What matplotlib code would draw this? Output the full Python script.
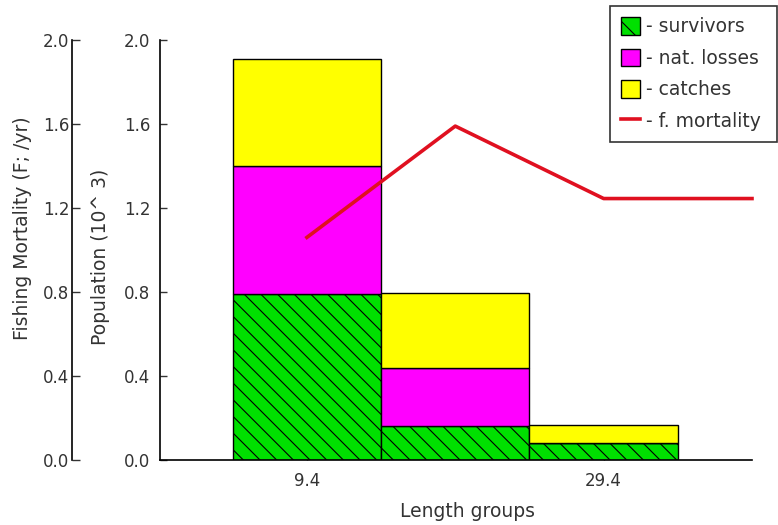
import matplotlib
matplotlib.use("Agg")
import matplotlib.pyplot as plt
from matplotlib.patches import Patch
from matplotlib.lines import Line2D
import numpy as np

plt.rcParams['font.family'] = ['DejaVu Sans']
plt.rcParams['hatch.linewidth'] = 0.8

# Length group centres and stacked population components (10^3)
length_groups = [9.4, 19.4, 29.4]
survivors = [0.79, 0.16, 0.08]
nat_losses = [0.61, 0.28, 0.0]
catches = [0.51, 0.355, 0.087]

# Fishing mortality per length group (F; /yr)
mort_x = [9.4, 19.4, 29.4, 39.4]
mortality = [1.06, 1.59, 1.245, 1.245]

tick_labels = ["9.4", "29.4"]
tick_pos = [9.4, 29.4]

TICK_FS = 12
LABEL_FS = 13.5
LEG_FS = 13.5
TXT = '#333333'

fig = plt.figure(figsize=(7.78, 5.25), dpi=100)
ax = fig.add_axes([160/778, 65/525, 592/778, 420/525])

width = 10.0
x = np.array(length_groups)
s = np.array(survivors)
n = np.array(nat_losses)
c = np.array(catches)

ax.bar(x, s, width=width, color='#00e000', edgecolor='black', linewidth=1.0,
       hatch='\\\\', zorder=2)
ax.bar(x, n, width=width, bottom=s, color='#ff00ff', edgecolor='black',
       linewidth=1.0, zorder=2)
ax.bar(x, c, width=width, bottom=s + n, color='#ffff00', edgecolor='black',
       linewidth=1.0, zorder=2)

ax.set_xlim(-0.5, 39.4)
ax.set_ylim(0, 2.0)
ax.set_yticks([0.0, 0.4, 0.8, 1.2, 1.6, 2.0])
ax.set_yticklabels(["0.0", "0.4", "0.8", "1.2", "1.6", "2.0"])
ax.set_xticks(tick_pos)
ax.set_xticklabels(tick_labels)
ax.tick_params(direction='in', length=5, width=1, labelsize=TICK_FS,
               colors=TXT, pad=7)
ax.tick_params(axis='x', pad=9)
for sp in ['top', 'right']:
    ax.spines[sp].set_visible(False)
for sp in ['left', 'bottom']:
    ax.spines[sp].set_linewidth(1.2)
ax.set_ylabel("Population (10^ 3)", fontsize=LABEL_FS, color=TXT)
ax.yaxis.set_label_coords(-0.084, 0.483)
ax.set_xlabel("Length groups", fontsize=LABEL_FS, color=TXT)
ax.xaxis.set_label_coords(0.519, -0.100)

# Second axis for fishing mortality, placed further left
ax2 = ax.twinx()
ax2.set_ylim(0, 2.0)
ax2.yaxis.set_ticks_position('left')
ax2.yaxis.set_label_position('left')
ax2.spines['left'].set_position(('axes', -88/592))
ax2.spines['left'].set_visible(True)
ax2.spines['left'].set_linewidth(1.2)
for sp in ['top', 'right', 'bottom']:
    ax2.spines[sp].set_visible(False)
ax2.set_yticks([0.0, 0.4, 0.8, 1.2, 1.6, 2.0])
ax2.set_yticklabels(["0.0", "0.4", "0.8", "1.2", "1.6", "2.0"])
ax2.tick_params(direction='in', length=6, width=1, labelsize=TICK_FS,
                colors=TXT, pad=2)
ax2.set_ylabel("Fishing Mortality (F; /yr)", fontsize=LABEL_FS, color=TXT)
ax2.yaxis.set_label_coords(-0.216, 0.552)
ax2.plot(mort_x, mortality, color='#e01020', linewidth=2.6, zorder=5,
         clip_on=False)

handles = [
    Patch(facecolor='#00e000', edgecolor='black', hatch='\\', label='- survivors'),
    Patch(facecolor='#ff00ff', edgecolor='black', label='- nat. losses'),
    Patch(facecolor='#ffff00', edgecolor='black', label='- catches'),
    Line2D([0], [0], color='#e01020', linewidth=2.6, label='- f. mortality'),
]
leg = ax2.legend(handles=handles, loc='upper left', mode='expand',
                 bbox_to_anchor=(610/778, 387/525, 167/778, 132/525),
                 bbox_transform=fig.transFigure,
                 frameon=True, fancybox=False, fontsize=LEG_FS, handlelength=1.0,
                 handleheight=1.05, handletextpad=0.3, borderpad=0.6,
                 labelspacing=0.66, borderaxespad=0)
leg.get_frame().set_edgecolor('black')
leg.get_frame().set_linewidth(1.2)
for t in leg.get_texts():
    t.set_color(TXT)

fig.savefig("out.png", dpi=100)
